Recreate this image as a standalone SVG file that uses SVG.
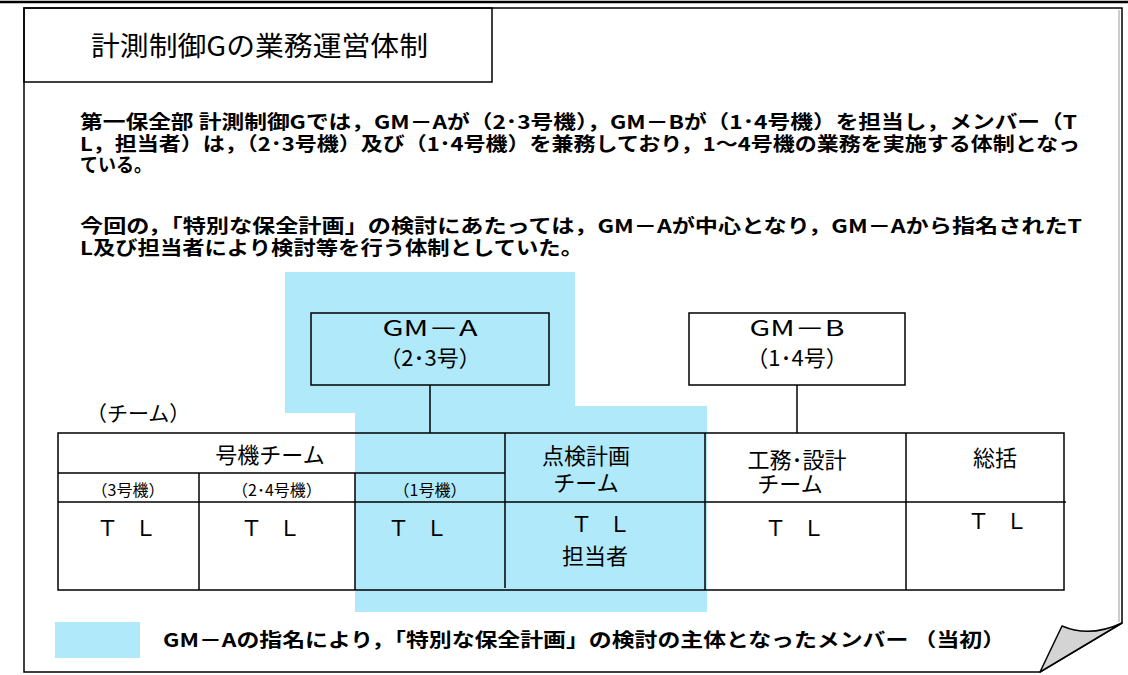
<svg xmlns="http://www.w3.org/2000/svg" width="1128" height="675" viewBox="0 0 1128 675">
<style>
text{font-family:"Noto Sans CJK JP","Liberation Sans",sans-serif;fill:#000}
.p{font-size:19px;font-weight:bold}
.n{font-size:22px;text-anchor:middle}
.s{font-size:16px;text-anchor:middle}
.tl{font-size:22px;text-anchor:middle;letter-spacing:-3px}
.ln{stroke:#000;stroke-width:1.5;fill:none}
.box{fill:none;stroke:#000;stroke-width:1.5}
.hl{fill:#b0e9f9}
</style>
<rect width="1128" height="675" fill="#fff"/>
<line x1="0" y1="2" x2="1128" y2="2" stroke="#000" stroke-width="2.5"/>
<g id="page">
<path d="M24,8 H1122 V623 L1040,672 H24 Z" fill="#fff" stroke="#000" stroke-width="1.5"/>
<line x1="1119" y1="10" x2="1119" y2="622" stroke="#999" stroke-width="1"/>
<path d="M1040,672 L1062,626 Q1090,638 1122,623 Z" fill="#d4d4d4" stroke="#000" stroke-width="1.5" stroke-linejoin="round"/>
</g>
<g id="title">
<rect x="24" y="8" width="468" height="74" class="box"/>
<text x="91" y="56" font-size="27" textLength="337" lengthAdjust="spacingAndGlyphs">計測制御Gの業務運営体制</text>
</g>
<g id="description">
<text class="p" x="80" y="129" textLength="997" lengthAdjust="spacingAndGlyphs">第一保全部 計測制御Gでは，GM－Aが（2･3号機），GM－Bが（1･4号機）を担当し，メンバー（T</text>
<text class="p" x="80" y="151" textLength="1000" lengthAdjust="spacingAndGlyphs">L，担当者）は，（2･3号機）及び（1･4号機）を兼務しており，1～4号機の業務を実施する体制となっ</text>
<text class="p" x="80" y="172" textLength="72" lengthAdjust="spacingAndGlyphs">ている。</text>
<text class="p" x="80" y="233" textLength="1002" lengthAdjust="spacingAndGlyphs">今回の，「特別な保全計画」の検討にあたっては，GM－Aが中心となり，GM－Aから指名されたT</text>
<text class="p" x="80" y="255" textLength="503" lengthAdjust="spacingAndGlyphs">L及び担当者により検討等を行う体制としていた。</text>
</g>
<g id="highlights">
<rect class="hl" x="285" y="272" width="290" height="141"/>
<rect class="hl" x="355" y="406" width="352" height="206"/>
</g>
<g id="gm-a">
<rect x="311" y="313" width="238" height="72" class="box" stroke="#1c2e36"/>
<text class="n" x="430" y="336" textLength="95" lengthAdjust="spacingAndGlyphs">GM－A</text>
<text class="n" x="430" y="366">（2･3号）</text>
</g>
<g id="gm-b">
<rect x="689" y="313" width="216" height="72" class="box"/>
<text class="n" x="797" y="336" textLength="95" lengthAdjust="spacingAndGlyphs">GM－B</text>
<text class="n" x="797" y="366">（1･4号）</text>
</g>
<g id="connectors">
<line class="ln" x1="430" y1="385" x2="430" y2="433"/>
<line class="ln" x1="797" y1="385" x2="797" y2="433"/>
</g>
<g id="team-label">
<text x="86" y="421" font-size="21">（チーム）</text>
</g>
<g id="table">
<rect x="58" y="433" width="1006" height="157" class="box"/>
<line class="ln" x1="58" y1="473" x2="505" y2="473"/>
<line class="ln" x1="58" y1="502" x2="1066" y2="502"/>
<line class="ln" x1="199" y1="473" x2="199" y2="590"/>
<line class="ln" x1="355" y1="473" x2="355" y2="590"/>
<line class="ln" x1="505" y1="433" x2="505" y2="588"/>
<line class="ln" x1="705" y1="433" x2="705" y2="590"/>
<line class="ln" x1="906" y1="433" x2="906" y2="590"/>
</g>
<g id="team-unit">
<text class="n" x="270" y="463">号機チーム</text>
<text class="s" x="128" y="496">（3号機）</text>
<text class="s" x="277" y="496">（2･4号機）</text>
<text class="s" x="430" y="496">（1号機）</text>
<text class="tl" x="125" y="536">Ｔ　Ｌ</text>
<text class="tl" x="269" y="536">Ｔ　Ｌ</text>
<text class="tl" x="416" y="536">Ｔ　Ｌ</text>
</g>
<g id="team-inspection">
<text class="n" x="586" y="464">点検計画</text>
<text class="n" x="586" y="491">チーム</text>
<text class="tl" x="599" y="532">Ｔ　Ｌ</text>
<text class="n" x="595" y="564">担当者</text>
</g>
<g id="team-design">
<text class="n" x="797" y="468">工務･設計</text>
<text class="n" x="790" y="492">チーム</text>
<text class="tl" x="793" y="536">Ｔ　Ｌ</text>
</g>
<g id="team-general">
<text class="n" x="995" y="466">総括</text>
<text class="tl" x="996" y="529">Ｔ　Ｌ</text>
</g>
<g id="legend">
<rect class="hl" x="55" y="622" width="85" height="36"/>
<text x="163" y="647" font-size="19" font-weight="bold" textLength="842" lengthAdjust="spacingAndGlyphs">GM－Aの指名により，「特別な保全計画」の検討の主体となったメンバー （当初）</text>
</g>
</svg>
